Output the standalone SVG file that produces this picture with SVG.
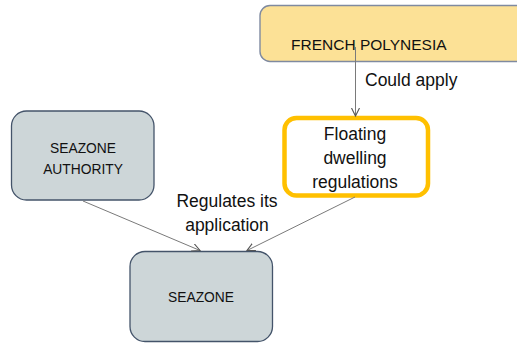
<svg xmlns="http://www.w3.org/2000/svg" width="517" height="344" viewBox="0 0 517 344">
<defs>
<style>
.txt{font-family:"Liberation Sans",Arial,sans-serif;fill:#111}
.gray{fill:#CDD6D8;stroke:#44546A;stroke-width:1.3}
.conn{stroke:#7a7a7a;stroke-width:1;fill:none}
</style>
<marker id="arr" markerUnits="userSpaceOnUse" markerWidth="12" markerHeight="12" refX="8" refY="4" orient="auto">
<path d="M0,0 L8,4 L0,8" fill="none" stroke="#555" stroke-width="1.1"/>
</marker>
</defs>
<rect width="517" height="344" fill="#fff"/>
<g id="french-polynesia">
<rect x="260" y="5.5" width="275" height="56" rx="10" fill="#FCE196" stroke="#7F8AA0" stroke-width="1.4"/>
<text class="txt" x="291" y="50" font-size="15.5">FRENCH POLYNESIA</text>
</g>
<g id="seazone-authority">
<rect class="gray" x="11.5" y="111" width="142.5" height="89" rx="15"/>
<text class="txt" x="83" y="152.5" font-size="13.8" text-anchor="middle">SEAZONE</text>
<text class="txt" x="83" y="174" font-size="13.8" text-anchor="middle">AUTHORITY</text>
</g>
<g id="floating-dwelling">
<rect x="284.5" y="118" width="143.5" height="77.5" rx="12" fill="#fff" stroke="#FFC000" stroke-width="4.5"/>
<text class="txt" x="355" y="139.5" font-size="17.5" text-anchor="middle">Floating</text>
<text class="txt" x="355" y="164" font-size="17.5" text-anchor="middle">dwelling</text>
<text class="txt" x="355" y="188" font-size="17.5" text-anchor="middle">regulations</text>
</g>
<g id="seazone">
<rect class="gray" x="130" y="251.5" width="142.5" height="90" rx="15"/>
<text class="txt" x="201" y="302" font-size="13.8" text-anchor="middle">SEAZONE</text>
</g>
<g id="connectors">
<line class="conn" x1="355.5" y1="47" x2="355.5" y2="116" marker-end="url(#arr)"/>
<line class="conn" x1="83" y1="201" x2="200" y2="250.5" marker-end="url(#arr)"/>
<line class="conn" x1="355" y1="197" x2="247" y2="250.5" marker-end="url(#arr)"/>
<text class="txt" x="365" y="86" font-size="17.5">Could apply</text>
<text class="txt" x="227" y="207" font-size="17.5" text-anchor="middle">Regulates its</text>
<text class="txt" x="227" y="231" font-size="17.5" text-anchor="middle">application</text>
</g>
</svg>
